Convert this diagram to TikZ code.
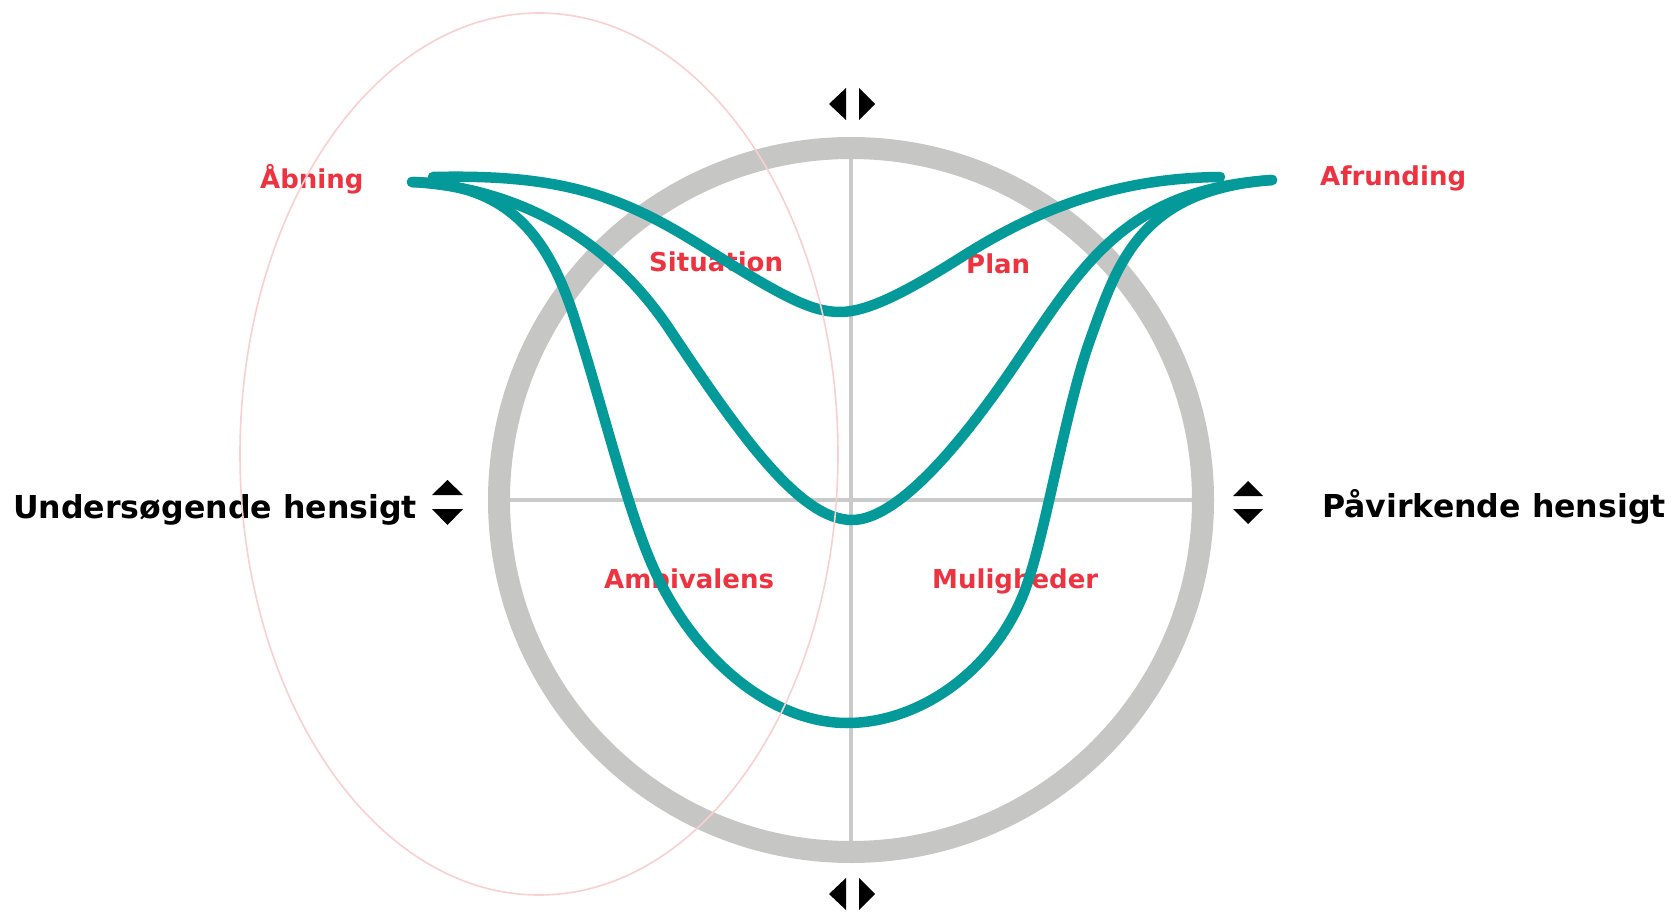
\documentclass[tikz,border=0pt]{standalone}
\usepackage{fontspec}
\setmainfont{DejaVu Sans}
\usepackage{xcolor}
\usepackage{tikz}
\definecolor{flowteal}{RGB}{4,154,154}
\definecolor{phasered}{RGB}{238,51,64}
\definecolor{ringgray}{RGB}{198,198,196}
\definecolor{crossgray}{RGB}{202,202,202}
\definecolor{focuspink}{RGB}{249,208,208}
\tikzset{
  axislabel/.style={font=\fontsize{31.6}{38}\selectfont\bfseries,text=black,
    inner sep=0pt,anchor=base west},
  phaselabel/.style={font=\fontsize{26}{31}\selectfont\bfseries,text=phasered,
    inner sep=0pt,anchor=base west},
  ringline/.style={line width=22pt,draw=ringgray},
  crossline/.style={line width=3.5pt,draw=crossgray},
  flowline/.style={line width=10.5pt,draw=flowteal,line cap=round,line join=round},
  focusline/.style={line width=1.6pt,draw=focuspink},
  arrowmark/.style={fill=black}
}

\begin{document}
\begin{tikzpicture}[x=1pt,y=-1pt]
  \useasboundingbox (0,0) rectangle (1674,912);

  \coordinate (centre) at (851,500);
  \draw[ringline] (centre) circle[radius=352];
  \draw[crossline] (510,500) -- (1192,500);
  \draw[crossline] (851,159) -- (851,841);

  % labels
  \node[axislabel] (explore) at (13,518) {Undersøgende hensigt};
  \node[axislabel] (influence) at (1322,517) {Påvirkende hensigt};
  \node[phaselabel] (open) at (260,189) {Åbning};
  \node[phaselabel] (close) at (1320,186) {Afrunding};
  \node[phaselabel] (situation) at (649,272) {Situation};
  \node[phaselabel] (plan) at (966,273) {Plan};
  \node[phaselabel] (ambivalence) at (604,588) {Ambivalens};
  \node[phaselabel] (options) at (932,588) {Muligheder};

  % up/down and left/right marks
  \fill[arrowmark] (432,495) -- (463,495) -- (447.5,480) -- cycle;
  \fill[arrowmark] (432,509) -- (463,509) -- (447.5,525) -- cycle;
  \fill[arrowmark] (1233,496) -- (1263,496) -- (1248,481) -- cycle;
  \fill[arrowmark] (1233,509) -- (1263,509) -- (1248,524) -- cycle;
  \fill[arrowmark] (846,88) -- (846,120) -- (829,104) -- cycle;
  \fill[arrowmark] (859,88) -- (859,120) -- (875,104) -- cycle;
  \fill[arrowmark] (846,878) -- (846,910) -- (829,894) -- cycle;
  \fill[arrowmark] (859,878) -- (859,910) -- (875,894) -- cycle;

  % the three conversation paths
  \coordinate (start) at (412,182);
  \coordinate (finish) at (1272,180);
  \draw[flowline] (433,177) .. controls (560,174) and (620,195) .. (700,245)
    .. controls (780,295) and (810,312) .. (840,312)
    .. controls (865,312) and (900,296) .. (960,258)
    .. controls (1040,207) and (1120,178) .. (1220,177);
  \draw[flowline] (start) .. controls (520,188) and (610,240) .. (670,330)
    .. controls (740,435) and (800,520) .. (852,520)
    .. controls (895,520) and (955,452) .. (1010,372)
    .. controls (1080,270) and (1120,190) .. (finish);
  \draw[flowline] (start) .. controls (500,184) and (545,225) .. (575,320)
    .. controls (605,415) and (625,500) .. (650,560)
    .. controls (690,656) and (770,723) .. (847,723)
    .. controls (920,723) and (995,670) .. (1025,590)
    .. controls (1045,537) and (1065,410) .. (1090,340)
    .. controls (1118,262) and (1140,190) .. (finish);

  \draw[focusline] (539,454) ellipse[x radius=299,y radius=441];
\end{tikzpicture}
\end{document}
